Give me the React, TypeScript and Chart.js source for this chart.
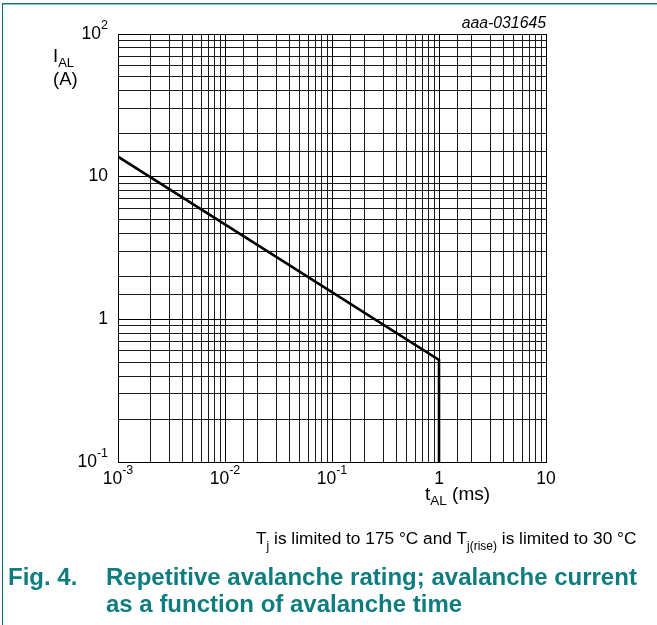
import React, { useEffect, useRef } from "react";
import { Chart, registerables } from "chart.js";

Chart.register(...registerables);

// ---- data ----
const curveTime = [0.001, 1, 1];
const curveCurrent = [13.8, 0.52, 0.1];

const xMin = 0.001;
const xMax = 10;
const yMin = 0.1;
const yMax = 100;

const xTickValues = [0.001, 0.01, 0.1, 1, 10];
const xTickLabels: [string, string][] = [
  ["10", "-3"],
  ["10", "-2"],
  ["10", "-1"],
  ["1", ""],
  ["10", ""],
];
const yTickValues = [0.1, 1, 10, 100];
const yTickLabels: [string, string][] = [
  ["10", "-1"],
  ["1", ""],
  ["10", ""],
  ["10", "2"],
];

const FONT = '"Liberation Sans", Arial, sans-serif';
const TEAL = "#0f7d7f";

function drawSup(
  ctx: CanvasRenderingContext2D,
  base: string,
  sup: string,
  x: number,
  y: number,
  align: "left" | "center" | "right"
) {
  ctx.font = `17.5px ${FONT}`;
  const bw = ctx.measureText(base).width;
  ctx.font = `12.5px ${FONT}`;
  const sw = sup ? ctx.measureText(sup).width : 0;
  const total = bw + sw;
  let x0 = x;
  if (align === "center") x0 = x - total / 2;
  if (align === "right") x0 = x - total;
  ctx.textAlign = "left";
  ctx.textBaseline = "middle";
  ctx.fillStyle = "#000";
  ctx.font = `17.5px ${FONT}`;
  ctx.fillText(base, x0, y);
  if (sup) {
    ctx.font = `12.5px ${FONT}`;
    ctx.fillText(sup, x0 + bw, y - 8);
  }
}

const labelPlugin = {
  id: "logLabels",
  afterDraw(chart: any) {
    const ctx = chart.ctx as CanvasRenderingContext2D;
    const xs = chart.scales.x;
    const ys = chart.scales.y;
    ctx.save();
    xTickValues.forEach((v, i) => {
      const px = xs.getPixelForValue(v);
      drawSup(ctx, xTickLabels[i][0], xTickLabels[i][1], px, ys.bottom + 17, "center");
    });
    yTickValues.forEach((v, i) => {
      const py = ys.getPixelForValue(v);
      drawSup(ctx, yTickLabels[i][0], yTickLabels[i][1], xs.left - 10, py, "right");
    });
    // code label
    ctx.font = `italic 15.8px ${FONT}`;
    ctx.textAlign = "right";
    ctx.textBaseline = "alphabetic";
    ctx.fillStyle = "#000";
    ctx.fillText("aaa-031645", xs.right, ys.top - 6);
    ctx.restore();
  },
};

export default function App() {
  const canvasRef = useRef<HTMLCanvasElement | null>(null);

  useEffect(() => {
    if (!canvasRef.current) return;
    const chart = new Chart(canvasRef.current, {
      type: "line",
      data: {
        datasets: [
          {
            data: curveTime.map((t, i) => ({ x: t, y: curveCurrent[i] })),
            borderColor: "#000",
            borderWidth: 2.6,
            pointRadius: 0,
            fill: false,
            tension: 0,
          },
        ],
      },
      options: {
        animation: false,
        responsive: false,
        devicePixelRatio: 1,
        layout: { padding: { left: 118, right: 111, top: 34, bottom: 163 } },
        plugins: {
          legend: { display: false },
          tooltip: { enabled: false },
          title: { display: false },
        },
        scales: {
          x: {
            type: "logarithmic",
            min: xMin,
            max: xMax,
            ticks: { display: false, autoSkip: false },
            grid: {
              color: (c: any) => (c.tick && c.tick.major ? "#000" : "#1a1a1a"),
              lineWidth: 1,
              drawTicks: false,
            },
            border: { display: true, color: "#000", width: 1 },
            afterFit: (s: any) => {
              s.height = 0;
            },
          },
          y: {
            type: "logarithmic",
            min: yMin,
            max: yMax,
            ticks: { display: false, autoSkip: false },
            grid: {
              color: (c: any) => (c.tick && c.tick.major ? "#000" : "#1a1a1a"),
              lineWidth: 1,
              drawTicks: false,
            },
            border: { display: true, color: "#000", width: 1 },
            afterFit: (s: any) => {
              s.width = 0;
            },
          },
        },
      },
      plugins: [labelPlugin],
    });
    return () => chart.destroy();
  }, []);

  const abs = (s: React.CSSProperties): React.CSSProperties => ({
    position: "absolute",
    fontFamily: FONT,
    whiteSpace: "nowrap",
    lineHeight: 1,
    ...s,
  });

  return (
    <div style={{ position: "absolute", left: 0, top: 0, width: 657, height: 625, background: "#fff", overflow: "hidden" }}>
      <canvas ref={canvasRef} width={657} height={625} style={{ position: "absolute", left: 0, top: 0 }} />
      {/* frame */}
      <div style={{ position: "absolute", left: 2, top: 3, width: 655, height: 1, background: "#166f72" }} />
      <div style={{ position: "absolute", left: 2, top: 4, width: 655, height: 1, background: "#8cc4c6" }} />
      <div style={{ position: "absolute", left: 2, top: 3, width: 1, height: 622, background: "#166f72" }} />
      {/* y axis title */}
      <div style={abs({ left: 53, top: 47, fontSize: 18.5, color: "#000" })}>
        I<span style={{ fontSize: 13, position: "relative", top: 5 }}>AL</span>
      </div>
      <div style={abs({ left: 53, top: 70, fontSize: 18.5, color: "#000" })}>(A)</div>
      {/* x axis title */}
      <div style={abs({ left: 425, top: 484, fontSize: 19, color: "#000" })}>
        t<span style={{ fontSize: 13.5, position: "relative", top: 5 }}>AL</span> (ms)
      </div>
      {/* caption */}
      <div style={abs({ left: 256, top: 530, fontSize: 17.3, color: "#000" })}>
        T<span style={{ fontSize: 12, position: "relative", top: 6 }}>j</span> is limited to 175 °C and T
        <span style={{ fontSize: 12, position: "relative", top: 6 }}>j(rise)</span> is limited to 30 °C
      </div>
      {/* figure title */}
      <div style={abs({ left: 8, top: 565, fontSize: 24, fontWeight: "bold", color: TEAL })}>Fig. 4.</div>
      <div style={abs({ left: 106, top: 565, fontSize: 24, fontWeight: "bold", color: TEAL })}>
        Repetitive avalanche rating; avalanche current
      </div>
      <div style={abs({ left: 106, top: 592, fontSize: 24, fontWeight: "bold", color: TEAL })}>
        as a function of avalanche time
      </div>
    </div>
  );
}
